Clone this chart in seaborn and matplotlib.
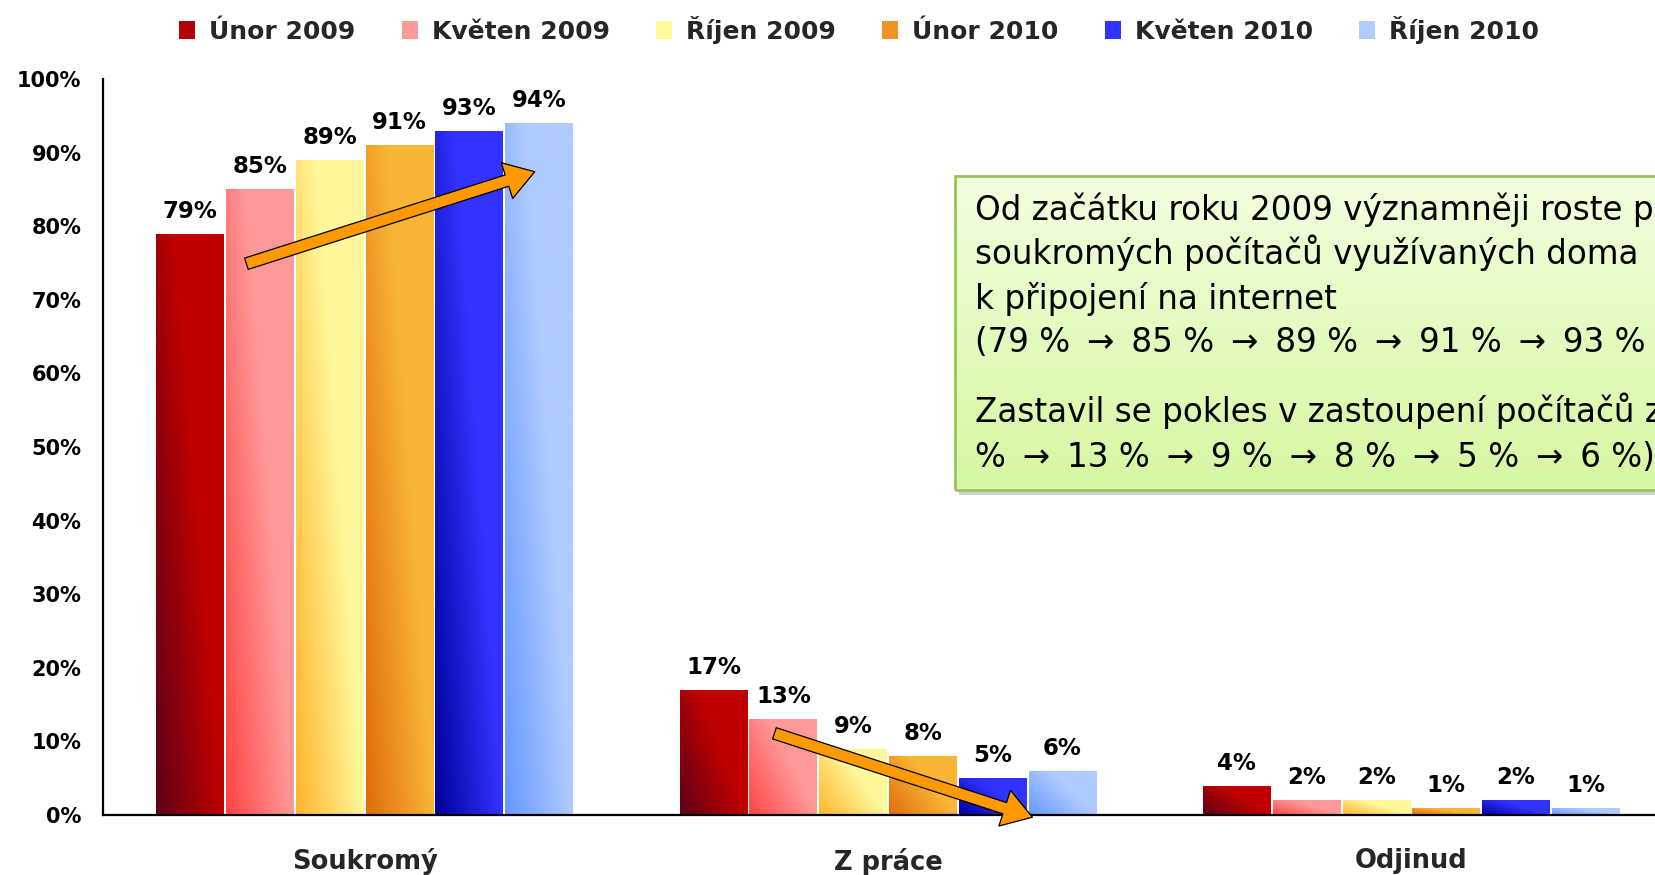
import numpy as np
import pandas as pd
import matplotlib
matplotlib.use("Agg")
import matplotlib.pyplot as plt
import seaborn as sns
from matplotlib.colors import LinearSegmentedColormap
from matplotlib.patches import Rectangle, FancyArrowPatch, Patch, ArrowStyle

# --- data -----------------------------------------------------------------
categories = ["Soukromý", "Z práce", "Odjinud"]
periods = ["Únor 2009", "Květen 2009", "Říjen 2009", "Únor 2010", "Květen 2010", "Říjen 2010"]
unor_2009 = [79, 17, 4]
kveten_2009 = [85, 13, 2]
rijen_2009 = [89, 9, 2]
unor_2010 = [91, 8, 1]
kveten_2010 = [93, 5, 2]
rijen_2010 = [94, 6, 1]
series = [unor_2009, kveten_2009, rijen_2009, unor_2010, kveten_2010, rijen_2010]
y_ticks = [0, 10, 20, 30, 40, 50, 60, 70, 80, 90, 100]

ARR = " \u2009→\u2009 "
note_lines = [
    "Od začátku roku 2009 významněji roste podíl",
    "soukromých počítačů využívaných doma",
    "k připojení na internet",
    "(79 %" + ARR + "85 %" + ARR + "89 %" + ARR + "91 %" + ARR + "93 %" + ARR + "94 %)",
    "Zastavil se pokles v zastoupení počítačů z práce (17",
    "%" + ARR + "13 %" + ARR + "9 %" + ARR + "8 %" + ARR + "5 %" + ARR + "6 %)",
]

# gradient end colours (dark corner -> light corner) for each period
dark_colors = ["#5e0018", "#ff4444", "#ffb42c", "#e06c0c", "#00009c", "#6698ff"]
light_colors = ["#c00000", "#ff9999", "#fff799", "#f9b535", "#3333ff", "#afcbff"]

df = pd.DataFrame(
    [(c, p, v[i]) for p, v in zip(periods, series) for i, c in enumerate(categories)],
    columns=["kategorie", "obdobi", "podil"],
)

# --- figure ---------------------------------------------------------------
W, H = 1655, 875
fig = plt.figure(figsize=(W / 100, H / 100), dpi=100)
sns.set_style("white")
plt.rcParams["font.family"] = ["DejaVu Sans"]

ax = fig.add_axes([103 / W, 60 / H, (1673 - 103) / W, (815 - 79) / H])
ax.set_zorder(0)
ax.patch.set_alpha(0)
sns.barplot(
    data=df, x="kategorie", y="podil", hue="obdobi",
    order=categories, hue_order=periods, palette=light_colors,
    width=0.8, gap=0.03, legend=False, ax=ax, linewidth=0,
)

# diagonal gradient fill on each bar
nx = ny = 96
gx = np.linspace(0, 1, nx)[None, :]
gy = np.linspace(0, 1, ny)[:, None]
shade = np.clip(gx + 0.7 * gy, 0, 1)
for k, cont in enumerate(ax.containers):
    cmap = LinearSegmentedColormap.from_list(f"g{k}", [dark_colors[k], light_colors[k]])
    img = cmap(shade)
    for bar, val in zip(cont.patches, series[k]):
        x0, w, h = bar.get_x(), bar.get_width(), bar.get_height()
        im = ax.imshow(img, extent=(x0, x0 + w, 0, h), origin="lower",
                       aspect="auto", interpolation="bilinear",
                       zorder=bar.get_zorder() + 0.1)
        im.set_clip_path(bar)
        ax.annotate(f"{val}%", (x0 + w / 2, h), xytext=(0, 11.5),
                    textcoords="offset points", ha="center", va="baseline",
                    fontsize=16.5, fontweight="bold", color="black", zorder=5)

ax.set_xlim(-0.5, 2.5)
ax.set_ylim(0, 100)

# axes styling
for s in ["top", "right"]:
    ax.spines[s].set_visible(False)
for s in ["left", "bottom"]:
    ax.spines[s].set_color("black")
    ax.spines[s].set_linewidth(1.6)
ax.set_yticks(y_ticks)
ax.set_yticklabels([f"{t}%" for t in y_ticks], fontsize=15, fontweight="bold")
ax.tick_params(axis="y", direction="out", length=4.5, width=1.4, pad=11, colors="black")
ax.set_xticks([-0.5, 0.5, 1.5, 2.5])
ax.set_xticklabels([])
ax.tick_params(axis="x", which="major", direction="out", length=7, width=1.2, colors="black")
ax.set_xticks([0, 1, 2], minor=True)
ax.set_xticklabels(categories, minor=True, fontsize=18.5, fontweight="bold")
ax.tick_params(axis="x", which="minor", length=0, pad=24)
ax.set_xlabel("")
ax.set_ylabel("")
ax.grid(False)

# trend arrows
arrow_style = ArrowStyle.Simple(head_length=2.1, head_width=2.7, tail_width=0.85)
trend_arrows = [((-0.226, 74.9), (0.325, 87.4)), ((0.783, 11.1), (1.276, -0.3))]
for a, b in trend_arrows:
    ax.add_patch(FancyArrowPatch(a, b, arrowstyle=arrow_style, mutation_scale=10,
                                 facecolor="#ff9900", edgecolor="black", linewidth=0.9,
                                 shrinkA=0, shrinkB=0, zorder=6, clip_on=False))

# legend
handles = [Patch(facecolor=c, edgecolor="none") for c in light_colors]
handles[0].set_facecolor("#b00008")
handles[3].set_facecolor("#ef9420")
leg = fig.legend(handles, periods, loc="center", bbox_to_anchor=(0.519, 1 - 30 / H),
                 ncol=6, frameon=False, handlelength=0.65, handleheight=0.75,
                 handletextpad=0.55, columnspacing=1.85,
                 prop={"size": 18, "weight": "bold"})

# note box with shading and gradient fill
bx0, by_top, by_bot = 955, 176, 490
fig.patches.append(Rectangle(((bx0 + 4) / W, 1 - (by_bot + 5) / H), (W - bx0) / W,
                             (by_bot - by_top) / H, transform=fig.transFigure,
                             facecolor="#a0a0a0", alpha=0.5, edgecolor="none", zorder=1))
box_ax = fig.add_axes([bx0 / W, 1 - by_bot / H, (W + 40 - bx0) / W, (by_bot - by_top) / H])
box_ax.set_zorder(2)
box_ax.set_xlim(0, 1)
box_ax.set_ylim(0, 1)
box_ax.axis("off")
box_cmap = LinearSegmentedColormap.from_list("box", ["#d6f7a2", "#f2ffde"])
box_ax.imshow(box_cmap(np.linspace(0, 1, 64))[:, None, :], extent=(0, 1, 0, 1),
              origin="lower", aspect="auto", zorder=1)
box_ax.add_patch(Rectangle((0, 0), 1, 1, transform=box_ax.transAxes, facecolor="none",
                           edgecolor="#98c45a", linewidth=2, zorder=2, clip_on=False))

baselines = [220, 264, 309, 352, 422, 467]
for line, yb in zip(note_lines, baselines):
    fig.text(975 / W, 1 - yb / H, line, fontsize=23.5, color="black",
             ha="left", va="baseline", zorder=10)

fig.savefig("out.png", dpi=100)
